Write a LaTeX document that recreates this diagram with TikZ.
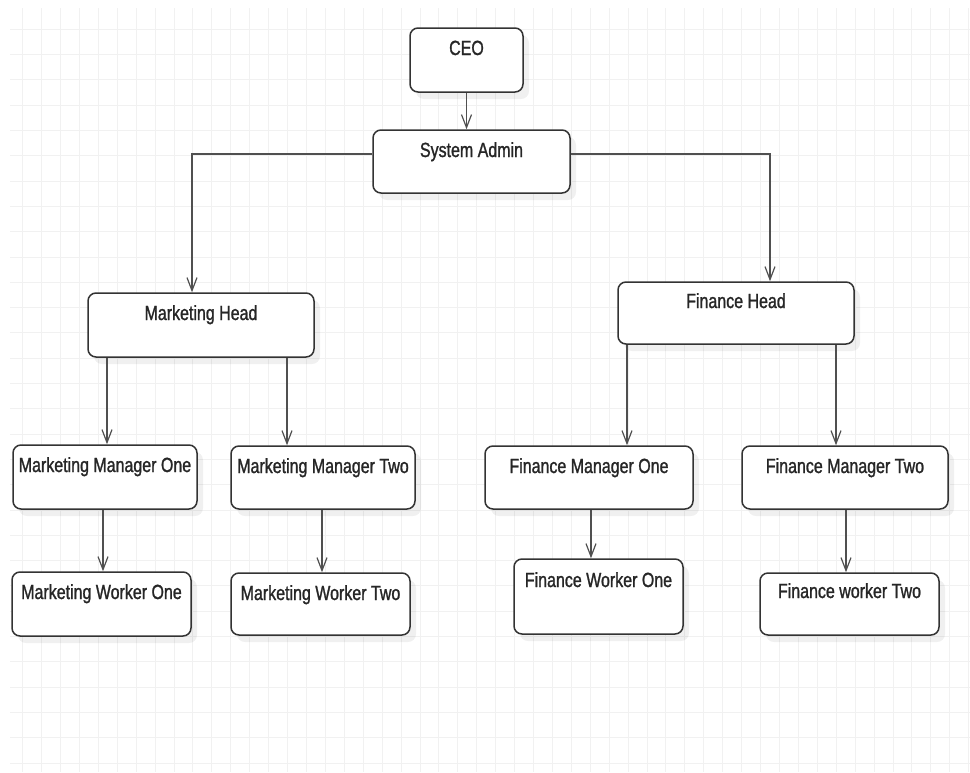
\documentclass[tikz,border=0pt]{standalone}
\usepackage{fontspec}
\setmainfont{Liberation Sans}[FakeStretch=0.78, FakeBold=1.2]
\usetikzlibrary{arrows.meta,shadows}

\definecolor{gridcol}{HTML}{F1F1F1}
\definecolor{boxline}{HTML}{333333}
\definecolor{linecol}{HTML}{505050}
\definecolor{textcol}{HTML}{262626}

\begin{document}
\begin{tikzpicture}[
  x=1pt, y=-1pt,
  box/.style={rectangle, draw=boxline, fill=white, line width=1.5pt, rounded corners=8pt,
    inner sep=0pt, text height=27pt, text depth=37pt, text=textcol,
    font=\fontsize{20.5}{24}\selectfont,
    drop shadow={shadow xshift=6pt, shadow yshift=-7pt, fill=black, opacity=0.06}},
  conn/.style={draw=linecol, line width=1.3pt, -{Straight Barb[length=13pt, width=10pt, line width=1.2pt]}}
]
\useasboundingbox (0,0) rectangle (970,772);
% grid
\foreach \k in {0,...,50}
  \draw[gridcol, line width=1pt] (22.7+18.92*\k, 8) -- (22.7+18.92*\k, 772);
\foreach \k in {0,...,29}
  \draw[gridcol, line width=1pt] (10, 29.3+25.3*\k) -- (970, 29.3+25.3*\k);

\node[box, minimum width=113pt] (ceo) at (466.5,60) {CEO};
\node[box, minimum width=197pt, text depth=36pt] (admin) at (471.5,161.5) {System Admin};

\node[box, minimum width=226pt] (mhead) at (201,325) {Marketing Head};
\node[box, minimum width=236pt, text height=26pt, text depth=36pt] (fhead) at (736,313) {Finance Head};

\node[box, minimum width=184pt] (mman1) at (105,477) {Marketing Manager One};
\node[box, minimum width=184pt, text depth=36pt] (mman2) at (323,477.5) {Marketing Manager Two};
\node[box, minimum width=208pt, text depth=36pt] (fman1) at (589,477.5) {Finance Manager One};
\node[box, minimum width=206pt, text depth=36pt] (fman2) at (845,477.5) {Finance Manager Two};

\node[box, minimum width=179pt] (mwork1) at (101.5,604) {Marketing Worker One};
\node[box, minimum width=179pt, text depth=35pt] (mwork2) at (320.5,604) {Marketing Worker Two};
\node[box, minimum width=169pt, text height=28pt, text depth=47pt] (fwork1) at (598.5,596.5) {Finance Worker One};
\node[box, minimum width=179pt, text height=25pt, text depth=37pt] (fwork2) at (849.5,604) {Finance worker Two};

\draw[conn] (ceo.south) -- (ceo.south |- admin.north);
\draw[conn] ([yshift=7.5pt]admin.west) -| ([xshift=-9pt]mhead.north);
\draw[conn] ([yshift=7.5pt]admin.east) -| ([xshift=34pt]fhead.north);

\draw[conn] (mhead.south -| 107,0) -- (mman1.north -| 107,0);
\draw[conn] (mhead.south -| 287,0) -- (mman2.north -| 287,0);
\draw[conn] (fhead.south -| 627,0) -- (fman1.north -| 627,0);
\draw[conn] (fhead.south -| 836,0) -- (fman2.north -| 836,0);

\draw[conn] (mman1.south -| 103,0) -- (mwork1.north -| 103,0);
\draw[conn] (mman2.south -| 322,0) -- (mwork2.north -| 322,0);
\draw[conn] (fman1.south -| 591,0) -- (fwork1.north -| 591,0);
\draw[conn] (fman2.south -| 846,0) -- (fwork2.north -| 846,0);
\end{tikzpicture}
\end{document}
